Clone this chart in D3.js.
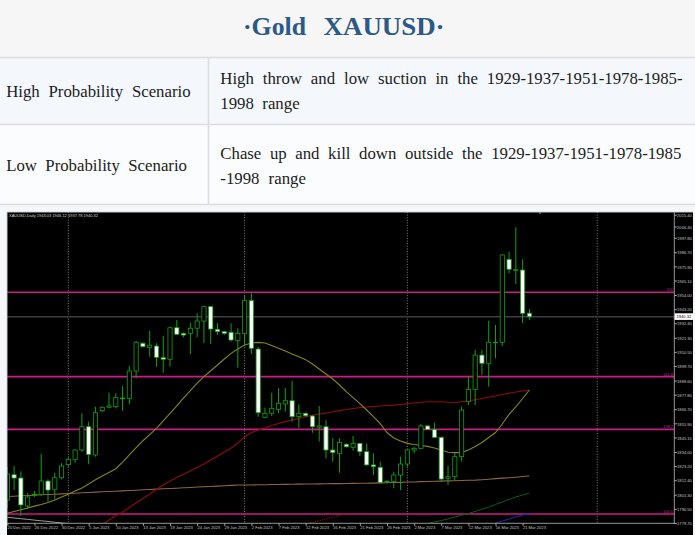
<!DOCTYPE html>
<html><head><meta charset="utf-8">
<script src="https://cdn.jsdelivr.net/npm/d3@7"></script>
<style>html,body{margin:0;padding:0;background:#fff;overflow:hidden}</style>
</head><body>
<svg id="c" width="695" height="535"></svg>
<script>
// ---------- DATA ----------
const titleWords = ["\u00B7Gold", "XAUUSD\u00B7"];
const rowLabels = ["High Probability Scenario", "Low Probability Scenario"];
const rowTextLines = [
  ["High throw and low suction in the 1929-1937-1951-1978-1985-", "1998 range"],
  ["Chase up and kill down outside the 1929-1937-1951-1978-1985", "-1998 range"]
];
const chartHeader = "XAUUSD,Daily  1943.03 1946.12 1937.78 1940.32";

const opens = [1800.2,1819.5,1817.0,1795.6,1804.0,1804.6,1814.7,1808.4,1817.2,1827.2,1831.3,1838.4,1856.2,1834.6,1868.5,1871.1,1871.5,1877.6,1877.9,1898.8,
 1920.0,1916.9,1917.9,1909.0,1907.8,1931.9,1927.6,1927.6,1931.5,1937.0,1948.0,1930.7,1928.9,1928.4,1922.0,1927.6,1952.6,1915.6,1863.4,1866.5,
 1869.5,1873.6,1876.1,1863.9,1866.5,1864.4,1855.8,1856.2,1838.4,1835.9,1842.8,1840.5,1843.5,1837.1,1827.0,1825.2,1814.0,1814.2,1819.3,1827.7,
 1838.4,1839.7,1856.8,1854.2,1848.1,1816.8,1818.0,1833.3,1875.3,1884.8,1911.0,1904.7,1920.4,1920.8,1984.2,1975.8,1976.0,1943.03];
const highs = [1825.4,1826.2,1822.1,1805.5,1807.1,1835.4,1816.0,1821.1,1828.3,1832.8,1839.0,1866.5,1860.1,1871.5,1871.5,1882.2,1881.8,1887.3,1902.6,1921.8,
 1920.8,1929.4,1920.0,1925.8,1932.7,1937.8,1928.2,1935.7,1942.9,1948.5,1948.5,1935.3,1929.4,1935.3,1931.5,1956.9,1958.7,1917.4,1870.8,1882.2,
 1885.6,1885.8,1891.4,1873.4,1867.1,1865.2,1872.1,1861.4,1847.4,1847.4,1843.4,1849.1,1843.8,1843.5,1835.9,1829.5,1815.5,1821.8,1833.3,1839.0,
 1840.9,1858.3,1857.5,1859.3,1848.7,1826.2,1836.4,1871.5,1894.5,1915.1,1914.9,1937.3,1934.0,1987.9,1990.0,2008.7,1984.2,1946.12];
const lows = [1794.1,1807.8,1788.0,1793.3,1802.5,1803.3,1798.9,1800.7,1816.0,1825.7,1828.7,1837.1,1827.5,1833.3,1867.5,1870.3,1870.3,1868.5,1873.4,1893.2,
 1916.8,1909.7,1902.1,1897.5,1902.1,1926.3,1924.6,1911.8,1924.6,1920.0,1919.5,1926.3,1926.3,1921.2,1901.3,1918.7,1911.8,1863.9,1862.7,1864.4,
 1866.5,1867.7,1860.1,1855.0,1863.9,1851.6,1844.8,1832.1,1829.5,1821.1,1840.3,1837.9,1833.8,1826.6,1819.3,1813.0,1813.0,1809.1,1807.8,1825.7,
 1835.9,1839.2,1853.9,1847.7,1814.2,1811.7,1815.5,1829.5,1872.8,1872.8,1895.8,1886.8,1908.5,1917.9,1973.5,1965.3,1935.3,1937.78];
const closes = [1820.1,1817.0,1796.4,1802.5,1804.6,1814.7,1807.8,1817.2,1826.2,1831.3,1838.4,1856.2,1835.1,1866.9,1871.1,1872.1,1878.7,1878.2,1898.8,1920.8,
 1917.4,1918.5,1909.3,1907.8,1931.9,1926.9,1926.3,1931.5,1937.0,1948.0,1930.9,1928.9,1927.6,1922.5,1927.6,1952.6,1916.2,1866.9,1866.5,1870.3,
 1874.1,1876.1,1863.9,1866.5,1864.6,1856.2,1856.8,1838.4,1836.4,1844.3,1840.9,1843.5,1837.1,1827.0,1825.7,1813.4,1814.4,1819.3,1827.7,1838.4,
 1839.7,1856.8,1854.2,1848.1,1816.2,1818.0,1833.3,1869.0,1884.8,1911.0,1904.7,1920.8,1920.8,1987.5,1976.6,1976.3,1942.9,1940.32];

// moving averages (values per bar, starting at the given bar index)
const maYellowStart = 0;
const maYellow = [1790.0,1791.4,1792.8,1794.1,1795.5,1796.8,1798.3,1800.2,1802.5,1804.6,1807.1,1809.4,1812.4,1815.7,1818.5,1821.2,1824.1,1829.2,1834.6,1840.3,
 1845.5,1850.2,1854.9,1860.6,1866.4,1872.1,1878.2,1883.8,1889.6,1894.5,1899.0,1903.4,1908.0,1912.3,1915.6,1918.7,1920.2,1920.7,1920.2,1918.3,
 1916.2,1914.1,1911.8,1909.7,1907.5,1904.2,1900.3,1896.5,1892.7,1888.1,1883.1,1878.5,1873.9,1869.0,1863.9,1858.5,1851.8,1847.6,1845.3,1843.5,
 1842.6,1841.9,1841.2,1839.9,1838.4,1836.7,1836.4,1836.4,1838.4,1841.1,1844.2,1848.0,1851.8,1858.3,1865.6,1871.3,1877.8,1884.3];
const maRedStart = 14;
const maRed = [1781.1,1784.9,1788.0,1791.0,1794.5,1797.9,1801.3,1804.8,1808.2,1811.7,1814.7,1817.4,1820.1,1822.4,1825.0,1827.7,1830.8,1833.8,1836.9,1839.9,
 1843.8,1848.4,1851.8,1853.7,1855.2,1857.2,1858.7,1860.1,1861.4,1862.6,1863.9,1865.0,1865.9,1866.7,1867.6,1868.5,1869.4,1870.1,1870.8,1871.3,
 1871.7,1872.1,1872.4,1872.7,1873.2,1873.8,1874.4,1874.9,1875.3,1875.3,1875.3,1874.9,1874.7,1875.3,1876.0,1876.8,1877.8,1878.7,1879.7,1880.8,
 1881.8,1882.8,1883.5,1884.3];
const maBrownStart = 0;
const maBrown = [1802.9,1803.1,1803.4,1803.6,1803.9,1804.2,1804.4,1804.6,1804.9,1805.2,1805.4,1805.7,1805.9,1806.2,1806.5,1806.7,1806.9,1807.2,1807.5,1807.7,
 1808.0,1808.2,1808.5,1808.8,1809.0,1809.2,1809.5,1809.8,1810.1,1810.3,1810.5,1810.8,1811.1,1811.4,1811.6,1811.7,1811.7,1811.8,1811.9,1812.0,
 1812.0,1812.1,1812.2,1812.3,1812.4,1812.4,1812.5,1812.6,1812.7,1812.7,1812.8,1812.9,1813.0,1813.0,1813.1,1813.3,1813.4,1813.6,1813.7,1813.9,
 1814.0,1814.2,1814.3,1814.5,1814.6,1814.8,1814.9,1815.1,1815.3,1815.4,1815.7,1816.1,1816.5,1816.9,1817.2,1817.6,1818.1,1818.5];
const maGreenStart = 62;
const maGreen = [1782.2,1783.4,1784.5,1785.7,1787.2,1788.5,1789.9,1791.4,1793.1,1794.8,1796.8,1798.7,1800.6,1802.5,1804.0,1805.5];
const maBlueStart = 72;
const maBlue = [1782.6,1784.1,1785.7,1787.2,1788.7,1790.0];
const maGrayStart = 0;
const maGray = [1787.0,1786.4,1785.9,1785.4,1784.8,1784.3,1783.8,1783.2,1782.7,1782.2];
const maRedDotStart = 44;
const maRedDot = [1781.8,1783.1,1784.3,1785.7,1787.2,1788.6,1789.9];

const fibLabels = ["100.0", "138.2", "161.8", "200"];
const fibPrices = [1789.5, 1854.2, 1894.5, 1959.0];
const bidPrice = 1940.32;
const monthSeparatorBars = [9, 35, 59, 87];

const priceTicks = [2015.40,2006.40,1997.80,1986.70,1975.90,1965.10,1954.00,1943.20,1932.40,1921.30,1910.50,1899.70,
  1888.60,1877.80,1866.70,1855.90,1845.10,1834.00,1823.20,1812.40,1801.30,1790.50,1779.70];
const dateTickBars = [0,4,8,12,16,20,24,28,32,36,40,44,48,52,56,60,64,68,72,76];
const dateLabels = ["20 Dec 2022","26 Dec 2022","30 Dec 2022","5 Jan 2023","10 Jan 2023","13 Jan 2023","19 Jan 2023",
  "24 Jan 2023","29 Jan 2023","2 Feb 2023","7 Feb 2023","12 Feb 2023","16 Feb 2023","21 Feb 2023","26 Feb 2023",
  "2 Mar 2023","7 Mar 2023","12 Mar 2023","16 Mar 2023","21 Mar 2023"];

// ---------- DRAW ----------
const svg = d3.select("#c");
const serif = "'Liberation Serif','Times New Roman',serif";
const sans = "'Liberation Sans',Arial,sans-serif";

// table backgrounds
svg.append("rect").attr("x",0).attr("y",0).attr("width",695).attr("height",57).attr("fill","#f6f6f6");
svg.append("rect").attr("x",0).attr("y",57).attr("width",695).attr("height",67).attr("fill","#f4f8fd");
svg.append("rect").attr("x",0).attr("y",124).attr("width",695).attr("height",80).attr("fill","#fbfcfd");
svg.append("rect").attr("x",0).attr("y",204).attr("width",695).attr("height",331).attr("fill","#f4f7fb");
[57.5,124.5,204.5].forEach(yy => svg.append("line").attr("x1",0).attr("x2",695).attr("y1",yy).attr("y2",yy)
  .attr("stroke","#dadcdf").attr("stroke-width",1.5));
svg.append("line").attr("x1",208.5).attr("x2",208.5).attr("y1",57).attr("y2",204).attr("stroke","#dadcdf").attr("stroke-width",1.5);

// title
const titleSpans = [[243, 63], [323.6, 121]];
titleWords.forEach((w, i) => {
  svg.append("text").text(w).attr("x", titleSpans[i][0]).attr("y", 35)
    .attr("textLength", titleSpans[i][1]).attr("lengthAdjust", "spacingAndGlyphs")
    .style("font-family", serif).style("font-weight", "bold").style("font-size", "25px").attr("fill", "#2c5985");
});

function justify(str, x0, x1, yb, size) {
  const words = str.split(" ");
  const nodes = words.map(w => svg.append("text").text(w).attr("y", yb)
    .style("font-family", serif).style("font-size", size + "px").attr("fill", "#1c1c1c"));
  const widths = nodes.map(n => n.node().getComputedTextLength());
  const total = d3.sum(widths);
  const gap = words.length > 1 ? (x1 - x0 - total) / (words.length - 1) : 0;
  let cx = x0;
  nodes.forEach((n, i) => { n.attr("x", cx); cx += widths[i] + gap; });
}
justify(rowLabels[0], 6.2, 190.6, 97, 16.8);
justify(rowLabels[1], 6.2, 187, 171, 16.8);
justify(rowTextLines[0][0], 220.3, 682.6, 84, 16.8);
justify(rowTextLines[0][1], 220.3, 299.6, 109, 16.8);
justify(rowTextLines[1][0], 220.3, 681.3, 158.5, 16.8);
justify(rowTextLines[1][1], 220.3, 305.9, 183.5, 16.8);

// chart frame
svg.append("rect").attr("x",7).attr("y",212).attr("width",686).attr("height",323).attr("fill","#000");

const x = d3.scaleLinear().domain([0, 77]).range([7.3, 529.4]);
const y = d3.scaleLinear().domain([1779.7, 2015.4]).range([526.8, 218.5]);

svg.append("defs").append("clipPath").attr("id","plotClip")
  .append("rect").attr("x",7).attr("y",212).attr("width",667).attr("height",311.3);
const plot = svg.append("g").attr("clip-path","url(#plotClip)");

// month separators
plot.selectAll("line.sep").data(monthSeparatorBars).join("line")
  .attr("x1", d => x(d)).attr("x2", d => x(d)).attr("y1", 212).attr("y2", 523.3)
  .attr("stroke", "#8e8e8e").attr("stroke-width", 0.9).attr("stroke-dasharray", "1,1.6");

// fib levels
plot.selectAll("line.fib").data(fibPrices).join("line")
  .attr("x1", 7).attr("x2", 674).attr("y1", d => y(d)).attr("y2", d => y(d))
  .attr("stroke", "#cc1d86").attr("stroke-width", 1.7);
plot.selectAll("text.fib").data(fibPrices).join("text")
  .attr("x", 673).attr("y", d => y(d) - 1).attr("text-anchor", "end")
  .text((d, i) => fibLabels[i]).attr("fill", "#a8348f")
  .style("font-family", sans).style("font-size", "4px");

// bid line
plot.append("line").attr("x1",7).attr("x2",674).attr("y1",y(bidPrice)).attr("y2",y(bidPrice))
  .attr("stroke","#3b3f43").attr("stroke-width",1.5);

// moving averages
function maLine(vals, start, color, width, dash) {
  const gen = d3.line().x((d, k) => x(start + k)).y(d => y(d));
  const p = plot.append("path").datum(vals).attr("d", gen).attr("fill", "none")
    .attr("stroke", color).attr("stroke-width", width);
  if (dash) p.attr("stroke-dasharray", dash);
}
maLine(maGray, maGrayStart, "#9c9c9c", 1);
maLine(maBrown, maBrownStart, "#8f6440", 1.1);
maLine(maRed, maRedStart, "#8e0c0c", 1.1);
maLine(maRedDot, maRedDotStart, "#a01010", 1, "1.2,1.2");
maLine(maGreen, maGreenStart, "#0d5e0d", 1);
maLine(maBlue, maBlueStart, "#2222b4", 1);
maLine(maYellow, maYellowStart, "#86861a", 1.1);

// candles
const green = "#14a014";
const idx = d3.range(opens.length);
plot.selectAll("line.wick").data(idx).join("line")
  .attr("x1", i => x(i)).attr("x2", i => x(i)).attr("y1", i => y(highs[i])).attr("y2", i => y(lows[i]))
  .attr("stroke", green).attr("stroke-width", 1);
plot.selectAll("rect.body").data(idx).join("rect")
  .attr("x", i => x(i) - 2.1).attr("width", 4.2)
  .attr("y", i => y(Math.max(opens[i], closes[i])))
  .attr("height", i => Math.max(0.6, Math.abs(y(opens[i]) - y(closes[i]))))
  .attr("fill", i => closes[i] >= opens[i] ? "#000" : "#fff")
  .attr("stroke", green).attr("stroke-width", 0.8);

// frame lines
svg.append("line").attr("x1",7).attr("x2",693).attr("y1",212.3).attr("y2",212.3).attr("stroke","#9a9a9a").attr("stroke-width",0.8);
svg.append("line").attr("x1",7.3).attr("x2",7.3).attr("y1",212).attr("y2",523.3).attr("stroke","#9a9a9a").attr("stroke-width",0.8);
svg.append("line").attr("x1",674.3).attr("x2",674.3).attr("y1",212).attr("y2",523.8).attr("stroke","#a8a8a8").attr("stroke-width",0.9);
svg.append("line").attr("x1",7).attr("x2",674.3).attr("y1",523.3).attr("y2",523.3).attr("stroke","#a8a8a8").attr("stroke-width",0.9);

// price axis
const yAxis = d3.axisRight(y).tickValues(priceTicks).tickSize(2.5).tickFormat(d3.format(".2f"));
const gy = svg.append("g").attr("transform", "translate(674.3,0)").call(yAxis);
gy.select(".domain").remove();
gy.selectAll(".tick line").attr("stroke", "#a8a8a8").attr("y1", -3.8).attr("y2", -3.8);
gy.selectAll(".tick text").attr("x", 2.8).attr("dy", "-2.1").attr("fill", "#c4c4c4")
  .style("font-family", sans).style("font-size", "4.1px");

// date axis
const xAxis = d3.axisBottom(x).tickValues(dateTickBars).tickSize(2.5)
  .tickFormat(d => dateLabels[dateTickBars.indexOf(d)]);
const gx = svg.append("g").attr("transform", "translate(0,523.3)").call(xAxis);
gx.select(".domain").remove();
gx.selectAll(".tick line").attr("stroke", "#a8a8a8");
gx.selectAll(".tick text").attr("text-anchor", "start").attr("x", -0.2).attr("y", 6).attr("dy", 0)
  .attr("fill", "#c4c4c4").style("font-family", sans).style("font-size", "4.1px");

// bid price box
svg.append("rect").attr("x", 674.6).attr("y", y(bidPrice) - 3.4).attr("width", 19.2).attr("height", 6.6).attr("fill", "#fff");
svg.append("text").attr("x", 676.4).attr("y", y(bidPrice) + 1.5).text(d3.format(".2f")(bidPrice))
  .attr("fill", "#000").style("font-family", sans).style("font-size", "4.1px");

// chart header & shift marker
svg.append("text").attr("x", 9).attr("y", 217.3).text(chartHeader)
  .attr("textLength", 89).attr("lengthAdjust", "spacingAndGlyphs")
  .attr("fill", "#d4d4d4").style("font-family", sans).style("font-size", "4px");
svg.append("path").attr("d", "M538.6,212.3 L541.4,212.3 L540,214.6 Z").attr("fill", "#8a8a8a");
</script>
</body></html>
